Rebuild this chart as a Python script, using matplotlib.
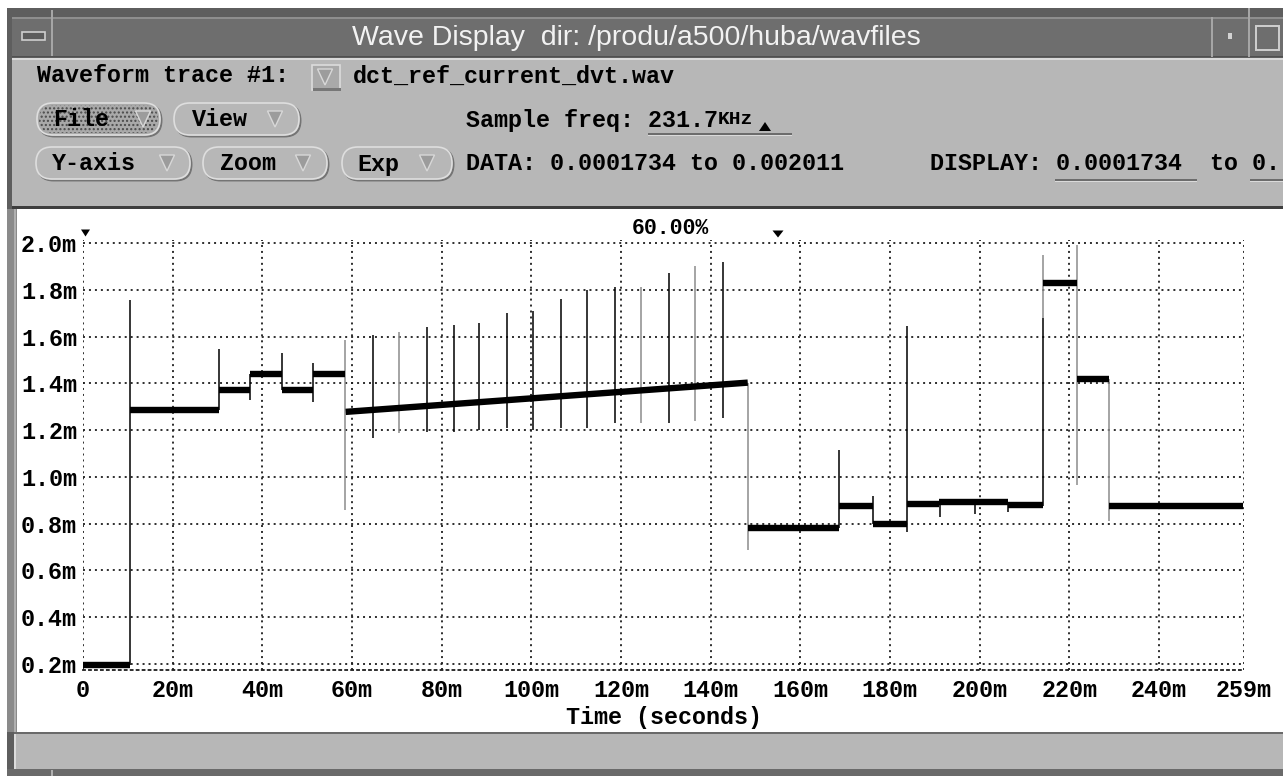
"""Wave Display screenshot: dct_ref_current_dvt.wav trace (current vs time)."""
import matplotlib
matplotlib.use("Agg")
import matplotlib.pyplot as plt
from matplotlib.patches import Rectangle, FancyBboxPatch, Polygon

W, H = 1283, 776
MONO = ["Liberation Mono", "DejaVu Sans Mono"]
SANS = ["Liberation Sans", "DejaVu Sans"]
PANEL = "#b7b7b7"
DARK = "#6e6e6e"

# ── data (time in ms, current in mA) ─────────────────────────────
X_TICKS = [0, 20, 40, 60, 80, 100, 120, 140, 160, 180, 200, 220, 240, 259]
X_LABELS = ["0", "20m", "40m", "60m", "80m", "100m", "120m", "140m",
            "160m", "180m", "200m", "220m", "240m", "259m"]
Y_TICKS = [0.2, 0.4, 0.6, 0.8, 1.0, 1.2, 1.4, 1.6, 1.8, 2.0]
Y_LABELS = ["0.2m", "0.4m", "0.6m", "0.8m", "1.0m", "1.2m", "1.4m",
            "1.6m", "1.8m", "2.0m"]
X_MAX = 259
Y_MIN, Y_MAX = 0.1734, 2.011

# flat / ramp segments of the trace
seg_t0 = [0, 10.5, 30.3, 37.3, 44.4, 51.3, 58.6, 148.3, 168.6, 176.2,
          183.8, 191.0, 206.3, 214.1, 221.7, 228.9]
seg_t1 = [10.5, 30.3, 37.3, 44.4, 51.3, 58.4, 148.3, 168.6, 176.2, 183.8,
          191.0, 206.3, 214.1, 221.7, 228.9, 258.7]
seg_v0 = [0.195, 1.286, 1.372, 1.440, 1.372, 1.440, 1.278, 0.780, 0.876,
          0.800, 0.885, 0.893, 0.878, 1.830, 1.420, 0.876]
seg_v1 = [0.195, 1.286, 1.372, 1.440, 1.372, 1.440, 1.403, 0.780, 0.876,
          0.800, 0.885, 0.893, 0.878, 1.830, 1.420, 0.876]

# switching spikes / edges
spike_t = [10.5, 30.3, 37.3, 44.4, 51.3, 58.4, 64.7, 70.5, 76.7, 82.8,
           88.3, 94.6, 100.4, 106.6, 112.4, 118.7, 124.5, 130.7, 136.5,
           142.8, 148.3, 168.6, 176.2, 183.8, 191.2, 199.0, 206.3,
           214.1, 214.1, 221.7, 228.9]
spike_lo = [0.195, 1.286, 1.330, 1.372, 1.320, 0.858, 1.166, 1.188, 1.190,
            1.190, 1.200, 1.210, 1.200, 1.210, 1.210, 1.230, 1.230, 1.230,
            1.240, 1.250, 0.687, 0.780, 0.800, 0.764, 0.830, 0.840, 0.850,
            0.876, 1.680, 0.965, 0.810]
spike_hi = [1.756, 1.547, 1.440, 1.530, 1.487, 1.585, 1.607, 1.620, 1.640,
            1.650, 1.660, 1.700, 1.710, 1.760, 1.800, 1.810, 1.810, 1.870,
            1.900, 1.920, 1.403, 1.115, 0.918, 1.645, 0.885, 0.893, 0.893,
            1.680, 1.950, 1.990, 1.420]
spike_grey = [0, 0, 0, 0, 0, 1, 0, 1, 0, 0, 0, 0, 0, 0, 0, 0, 1, 0, 1, 0,
              1, 0, 0, 0, 0, 0, 0, 0, 1, 1, 1]

fig = plt.figure(figsize=(W / 100, H / 100), dpi=100)
fig.patch.set_facecolor("white")

# ── window chrome (pixel coords) ────────────────────────────────
bg = fig.add_axes([0, 0, 1, 1], zorder=0)
bg.set_xlim(0, W)
bg.set_ylim(H, 0)
bg.axis("off")


def box(x0, y0, x1, y1, color, **kw):
    bg.add_patch(Rectangle((x0, y0), x1 - x0, y1 - y0, facecolor=color,
                           edgecolor=kw.pop("ec", "none"), lw=kw.pop("lw", 0), **kw))


def tri_down(cx, cy, w, h, fc, ec="none"):
    bg.add_patch(Polygon([(cx - w / 2, cy - h / 2), (cx + w / 2, cy - h / 2),
                          (cx, cy + h / 2)], closed=True, facecolor=fc,
                         edgecolor=ec, lw=1))


def button(x0, x1, yc, label, tx, arrow_x, stipple=False):
    h = 32
    y0 = yc - h / 2
    bg.add_patch(FancyBboxPatch((x0 + 1.5, y0 + 1.5), x1 - x0, h,
                                boxstyle=f"round,pad=0,rounding_size={h / 2}",
                                facecolor="none", edgecolor="#747474", lw=1.4))
    bg.add_patch(FancyBboxPatch((x0, y0), x1 - x0, h,
                                boxstyle=f"round,pad=0,rounding_size={h / 2}",
                                facecolor="#a9a9a9" if stipple else PANEL,
                                edgecolor="#dedede", lw=1.2))
    if stipple:
        bg.add_patch(FancyBboxPatch((x0 + 2, y0 + 2), x1 - x0 - 4, h - 4,
                                    boxstyle=f"round,pad=0,rounding_size={h / 2 - 2}",
                                    facecolor="none", edgecolor="#4a4a4a",
                                    hatch="....", lw=0))
    bg.text(tx, yc + 1, label, family=MONO, weight="bold", fontsize=16.8,
            ha="left", va="center", color="black")
    tri_down(arrow_x, yc, 15, 16, "#9c9c9c", "#d8d8d8")


box(7, 8, W, H, "#5e5e5e")
# title bar
box(12, 17, W, 57, DARK)
box(12, 17, W, 18.5, "#8e8e8e")
box(12, 55.5, W, 57, "#505050")
box(51, 10, 53, 56, "#a6a6a6")
box(22, 32, 45, 40, "#5c5c5c", ec="#cfcfcf", lw=1.2)
box(1211, 17, 1213, 57, "#a6a6a6")
box(1248, 8, 1250, 57, "#a6a6a6")
box(1228, 33, 1232, 39, "#d2d2d2")
box(1256, 26, 1279, 50, DARK, ec="#cfcfcf", lw=1.4)
bg.text(636, 38, "Wave Display  dir: /produ/a500/huba/wavfiles", family=SANS,
        fontsize=20.5, color="#f2f2f2", ha="center", va="center")

# control panel
box(12, 58, W, 207, PANEL)
box(12, 58, W, 59.5, "#dadada")
box(12, 206, W, 209, "#3e3e3e")
bg.text(37, 76, "Waveform trace #1:", family=MONO, weight="bold",
        fontsize=16.8, ha="left", va="center")
box(312, 65, 340, 90, "#a9a9a9", ec="#dcdcdc", lw=1.2)
box(313, 88, 341, 90.5, "#777777")
tri_down(325, 77, 15, 16, "#9c9c9c", "#d8d8d8")
bg.text(353, 76, "dct_ref_current_dvt.wav", family=MONO, weight="bold",
        fontsize=16.8, ha="left", va="center")

button(37, 160, 119, "File", 53, 143, stipple=True)
button(174, 299, 119, "View", 192, 275)
button(36, 190, 163, "Y-axis", 52, 167)
button(203, 327, 163, "Zoom", 220, 303)
button(342, 452, 163, "Exp", 357, 427)

bg.text(466, 120, "Sample freq: 231.7", family=MONO, weight="bold",
        fontsize=16.8, ha="left", va="center")
bg.text(718, 120, "KHz", family=MONO, weight="bold", fontsize=14,
        ha="left", va="center")
bg.add_patch(Polygon([(759, 131), (771, 131), (765, 122)], closed=True,
                     facecolor="black"))
box(648, 133, 792, 134.5, "#6c6c6c")
box(648, 134.5, 792, 136, "#dadada")
bg.text(466, 164, "DATA: 0.0001734 to 0.002011", family=MONO, weight="bold",
        fontsize=16.8, ha="left", va="center")
bg.text(930, 164, "DISPLAY: 0.0001734  to 0.", family=MONO,
        weight="bold", fontsize=16.8, ha="left", va="center")
box(1055, 179, 1197, 180.5, "#6c6c6c")
box(1055, 180.5, 1197, 182, "#dadada")
box(1250, 179, W, 180.5, "#6c6c6c")
box(1250, 180.5, W, 182, "#dadada")

# plot region + status bar
box(17, 209, W, 732, "white")
box(7, 209, 17, 732, "#8a8a8a")
box(14, 209, 16, 732, "#b0b0b0")
box(14, 732, W, 734, "#6a6a6a")
box(14, 734, W, 769, PANEL)
box(14, 734, 16, 769, "#dcdcdc")
box(7, 769, W, H, "#6a6a6a")
box(51, 770, 53, H, "#b0b0b0")

bg.text(670, 229, "60.00%", family=MONO, weight="bold", fontsize=15.5,
        ha="center", va="center")
tri_down(85.5, 233, 9, 7, "black")
tri_down(778, 234, 11, 7, "black")

# ── waveform axes ───────────────────────────────────────────────
x_left, x_right = 83, 1244
y_top = 243 - (Y_MAX - 2.0) * (664 - 243) / 1.8
y_bot = 664 + (0.2 - Y_MIN) * (664 - 243) / 1.8
ax = fig.add_axes([x_left / W, 1 - y_bot / H, (x_right - x_left) / W,
                   (y_bot - y_top) / H], zorder=1)
ax.patch.set_alpha(0)
ax.set_xlim(0, X_MAX)
ax.set_ylim(Y_MIN, Y_MAX)
ax.set_xticks(X_TICKS, X_LABELS)
ax.set_yticks(Y_TICKS, Y_LABELS)
for lab in ax.get_xticklabels() + ax.get_yticklabels():
    lab.set_fontfamily(MONO)
    lab.set_fontweight("bold")
    lab.set_fontsize(16.8)
ax.tick_params(axis="both", length=0)
ax.tick_params(axis="x", pad=6.5)
ax.tick_params(axis="y", pad=4.3)
ax.grid(True, color="#1e1e1e", lw=1.3, ls=(0, (1.1, 2.2)))
for side in ["top", "left", "right"]:
    ax.spines[side].set_visible(False)
ax.spines["bottom"].set_linestyle((0, (1.1, 2.2)))
ax.spines["bottom"].set_linewidth(1.3)
ax.spines["bottom"].set_color("#1e1e1e")

ax.set_xlabel("Time (seconds)", family=MONO, weight="bold", fontsize=16.8)
ax.xaxis.set_label_coords(0.5, -(706 - y_bot) / (y_bot - y_top))

for t, lo, hi, g in zip(spike_t, spike_lo, spike_hi, spike_grey):
    ax.vlines(t, lo, hi, colors="#8c8c8c" if g else "black",
              lw=1.1, zorder=3)
for t0, t1, v0, v1 in zip(seg_t0, seg_t1, seg_v0, seg_v1):
    ax.plot([t0, t1], [v0, v1], color="black", lw=4.6,
            solid_capstyle="butt", zorder=4)

fig.savefig("out.png", dpi=100)
